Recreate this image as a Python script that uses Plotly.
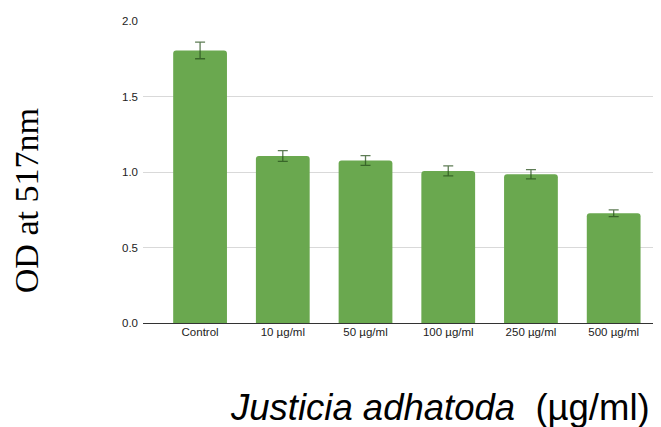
import plotly.graph_objects as go

categories = ["Control", "10 µg/ml", "50 µg/ml", "100 µg/ml", "250 µg/ml", "500 µg/ml"]
od_values = [1.805, 1.106, 1.076, 1.007, 0.985, 0.727]
od_errors = [0.055, 0.035, 0.032, 0.033, 0.031, 0.022]
y_ticks = [0.0, 0.5, 1.0, 1.5, 2.0]
y_tick_labels = ["0.0", "0.5", "1.0", "1.5", "2.0"]

fig = go.Figure()
fig.add_trace(go.Bar(
    x=categories,
    y=od_values,
    marker=dict(color="#6aa84f", line=dict(width=0)),
    error_y=dict(type="data", array=od_errors, visible=True,
                 color="rgba(40,80,28,0.75)", thickness=1.3, width=5),
    width=0.65,
))

fig.update_layout(
    width=653, height=419,
    margin=dict(l=135, r=1, t=13, b=104),
    paper_bgcolor="white", plot_bgcolor="white",
    showlegend=False,
    barcornerradius=3,
    font=dict(family="Liberation Sans, Arial, sans-serif", color="#222"),
    xaxis=dict(
        range=[-0.69, 5.56],
        showgrid=False, showline=False, ticks="",
        tickfont=dict(size=11.5, color="#222"),
        fixedrange=True,
    ),
    yaxis=dict(
        range=[0, 2],
        tickvals=y_ticks, ticktext=y_tick_labels,
        showgrid=True, gridcolor="#d9d9d9", gridwidth=1,
        zeroline=True, zerolinecolor="#333333", zerolinewidth=1,
        showline=False, ticks="",
        tickfont=dict(size=11.5, color="#222"),
        ticklabelstandoff=4,
    ),
    annotations=[
        dict(text="<i>Justicia adhatoda</i>  (µg/ml)", xref="paper", yref="paper",
             x=0.574, y=-0.281, xanchor="center", yanchor="middle", showarrow=False,
             font=dict(family="Liberation Sans, Arial, sans-serif", size=36.5, color="black")),
        dict(text="OD at 517nm", xref="paper", yref="paper",
             x=-0.224, y=0.404, xanchor="center", yanchor="middle", showarrow=False,
             textangle=-90,
             font=dict(family="Liberation Serif, Times New Roman, serif", size=34, color="black")),
    ],
)

fig.write_html("out.html")
